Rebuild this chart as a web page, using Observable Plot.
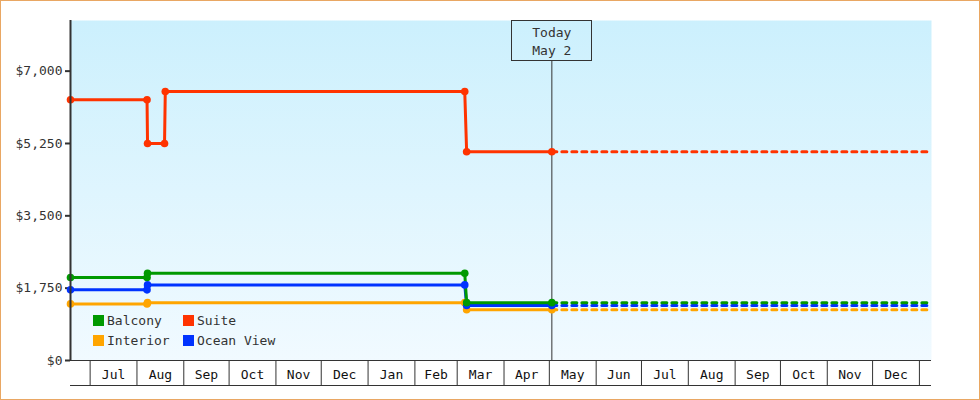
<!DOCTYPE html>
<html>
<head>
<meta charset="utf-8">
<script src="https://cdn.jsdelivr.net/npm/d3@7"></script>
<script src="https://cdn.jsdelivr.net/npm/@observablehq/plot@0.6"></script>
<style>
  html, body { margin: 0; padding: 0; background: white; }
  #chart svg { display: block; outline: 1px solid #e9a763; outline-offset: -1px; }
</style>
</head>
<body>
<div id="chart"></div>
<script>
// ---- Data ----
const seriesNames = ["Balcony", "Suite", "Interior", "Ocean View"];
const seriesColors = ["#009900", "#ff3300", "#ffa500", "#0033ff"];
const drawOrder = ["Interior", "Ocean View", "Balcony", "Suite"];

const startDate = "2018-06-18T00:00Z";
const todayDate = "2019-05-02T16:00Z";
const projectionEnd = "2020-01-09T00:00Z";

const suiteDates = ["2018-06-18T00:00Z", "2018-08-07T16:00Z", "2018-08-08T00:00Z", "2018-08-19T06:00Z",
                    "2018-08-19T18:00Z", "2019-03-06T00:00Z", "2019-03-07T06:00Z", "2019-05-02T16:00Z"];
const suitePrices = [6309, 6309, 5249, 5249, 6509, 6509, 5049, 5049];

const otherDates = ["2018-06-18T00:00Z", "2018-08-07T16:00Z", "2018-08-08T00:00Z",
                    "2019-03-06T00:00Z", "2019-03-07T06:00Z", "2019-05-02T16:00Z"];
const balconyPrices   = [2009, 2009, 2109, 2109, 1399, 1399];
const oceanViewPrices = [1709, 1709, 1829, 1829, 1329, 1329];
const interiorPrices  = [1369, 1369, 1399, 1399, 1229, 1229];

const yTicks = [0, 1750, 3500, 5250, 7000];
const yMax = 8225;
const todayLabel = ["Today", "May 2"];

// ---- Build tables ----
const seriesData = {
  "Balcony":    {dates: otherDates, prices: balconyPrices},
  "Suite":      {dates: suiteDates, prices: suitePrices},
  "Interior":   {dates: otherDates, prices: interiorPrices},
  "Ocean View": {dates: otherDates, prices: oceanViewPrices}
};
const history = [];
const projection = [];
for (const name of drawOrder) {
  const s = seriesData[name];
  s.dates.forEach((d, i) => history.push({series: name, date: new Date(d), price: s.prices[i]}));
  const last = s.prices[s.prices.length - 1];
  projection.push({series: name, date: new Date(todayDate), price: last});
  projection.push({series: name, date: new Date(projectionEnd), price: last});
}

const x0 = new Date(startDate), x1 = new Date(projectionEnd), today = new Date(todayDate);
const monthStarts = d3.utcMonth.range(x0, x1);
const monthMids = monthStarts.slice(0, -1).map((m, i) => new Date((+m + +monthStarts[i + 1]) / 2));

const ink = "#333";

const chart = Plot.plot({
  width: 980,
  height: 400,
  marginLeft: 70,
  marginRight: 49,
  marginTop: 20,
  marginBottom: 40,
  style: {fontFamily: "'DejaVu Sans Mono', monospace", fontSize: "13px", color: ink, background: "white"},
  x: {type: "utc", domain: [x0, x1]},
  y: {domain: [0, yMax]},
  color: {domain: seriesNames, range: seriesColors},
  marks: [
    Plot.frame({fill: "url(#bgGrad)", stroke: "none"}),
    Plot.axisX({ticks: monthStarts, tickSize: 25, tickFormat: () => "", stroke: ink, label: null}),
    Plot.axisX({ticks: monthMids, tickSize: 0, tickPadding: 9, tickFormat: d3.utcFormat("%b"), fill: "#111", label: null}),
    Plot.axisY({ticks: yTicks, tickSize: 5, tickPadding: 3, strokeWidth: 2, stroke: ink, fill: ink, label: null,
                tickFormat: d => "$" + d3.format(",")(d)}),
    Plot.ruleY([0], {stroke: ink, strokeWidth: 1}),
    Plot.ruleX([today], {stroke: ink, strokeWidth: 1, insetTop: 40}),
    Plot.text([today], {x: d => d, frameAnchor: "top", lineAnchor: "middle", dy: 12, text: () => todayLabel[0], fill: ink}),
    Plot.text([today], {x: d => d, frameAnchor: "top", lineAnchor: "middle", dy: 30, text: () => todayLabel[1], fill: ink}),
    Plot.line(projection, {x: "date", y: "price", z: "series", stroke: "series", strokeWidth: 3,
                           strokeDasharray: "5,5", curve: "linear"}),
    Plot.line(history, {x: "date", y: "price", z: "series", stroke: "series", strokeWidth: 3, curve: "linear"}),
    Plot.dot(history, {x: "date", y: "price", fill: "series", r: 3.8, stroke: "none"}),
    Plot.ruleX([x0], {stroke: ink, strokeWidth: 2})
  ]
});

// ---- Decorations: gradient, bottom axis line, today box, legend ----
const svg = d3.select(chart);
const defs = svg.insert("defs", ":first-child");
const grad = defs.append("linearGradient").attr("id", "bgGrad")
  .attr("x1", 0).attr("y1", 0).attr("x2", 0).attr("y2", 1);
grad.append("stop").attr("offset", "0%").attr("stop-color", "#ccf0fd");
grad.append("stop").attr("offset", "100%").attr("stop-color", "#f1faff");

const xs = chart.scale("x");
const xl = xs.apply(x0), xr = xs.apply(x1);
svg.append("line").attr("x1", xl).attr("x2", xr).attr("y1", 385.5).attr("y2", 385.5)
  .attr("stroke", ink).attr("stroke-width", 1);

const xt = xs.apply(today);
svg.append("rect").attr("x", Math.round(xt) - 40 + 0.5).attr("y", 20.5).attr("width", 80).attr("height", 40)
  .attr("fill", "none").attr("stroke", ink).attr("stroke-width", 1);

const legend = svg.append("g").attr("font-family", "'DejaVu Sans Mono', monospace").attr("font-size", 13)
  .attr("text-anchor", "start");
seriesNames.forEach((name, i) => {
  const col = i % 2, row = Math.floor(i / 2);
  const g = legend.append("g").attr("transform", `translate(${93 + col * 90},${315 + row * 20})`);
  g.append("rect").attr("width", 11).attr("height", 11).attr("fill", seriesColors[i]);
  g.append("text").attr("x", 14).attr("y", 5.5).attr("dy", "0.35em").attr("text-anchor", "start")
    .attr("fill", ink).text(name);
});

document.getElementById("chart").append(chart);
</script>
</body>
</html>
